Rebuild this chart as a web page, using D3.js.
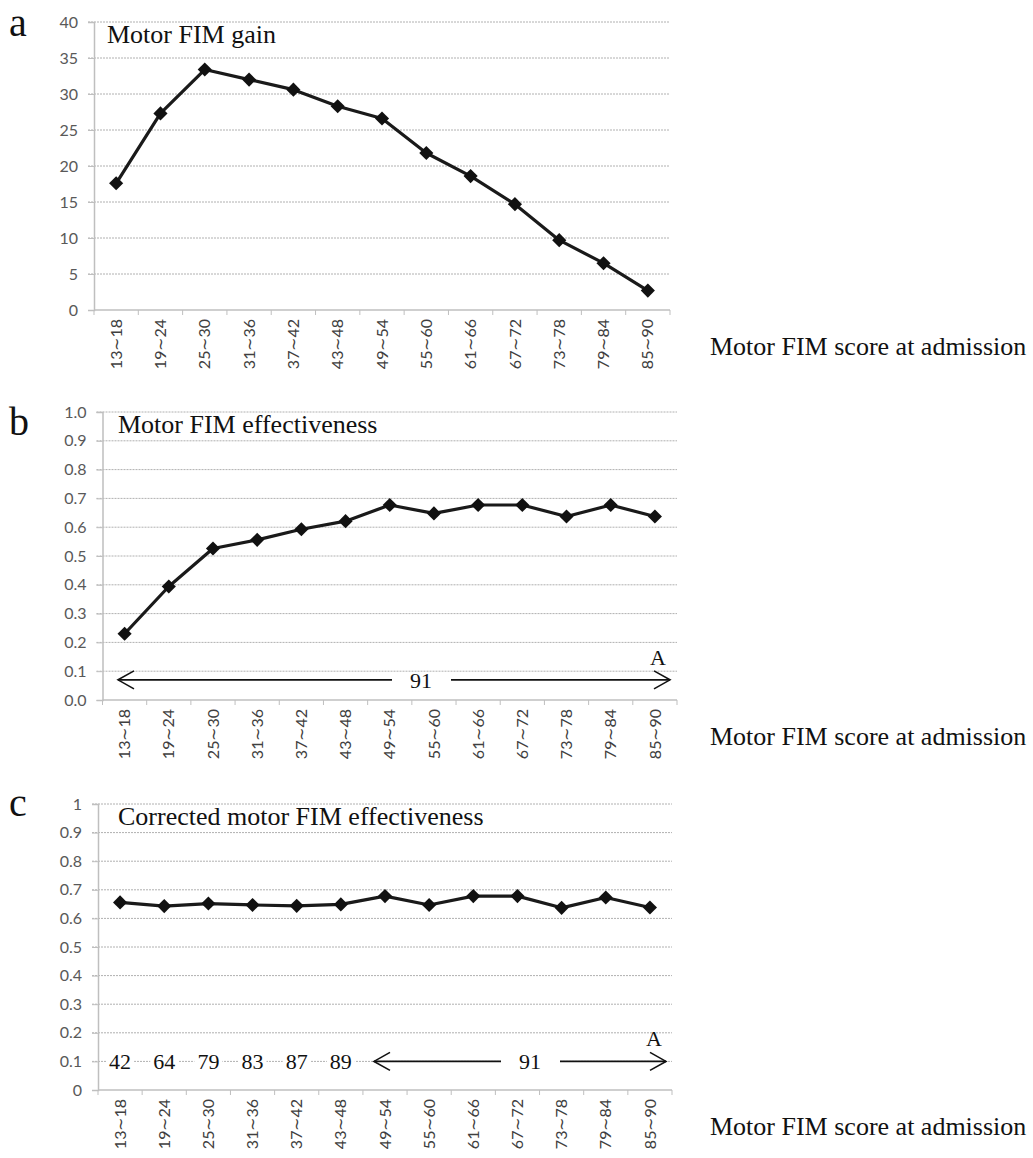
<!DOCTYPE html>
<html>
<head>
<meta charset="utf-8">
<script src="https://cdn.jsdelivr.net/npm/d3@7"></script>
<style>
  body { margin: 0; background: #fff; }
  .grid line { stroke: #b0b0b0; stroke-width: 1; stroke-dasharray: 2,1; }
  .axis-line { stroke: #bfbfbf; stroke-width: 1.5; }
  .serif { font-family: "Liberation Serif", "Times New Roman", serif; fill: #111; }
</style>
</head>
<body>
<div class="chart"></div>
<script>
/* Data
============================================= */
const CATEGORIES = ["13∼18", "19∼24", "25∼30", "31∼36", "37∼42", "43∼48", "49∼54",
                    "55∼60", "61∼66", "67∼72", "73∼78", "79∼84", "85∼90"];

const GAIN          = [17.6, 27.3, 33.4, 32.0, 30.6, 28.3, 26.6, 21.8, 18.6, 14.7, 9.7, 6.5, 2.7];
const EFFECTIVENESS = [0.23, 0.394, 0.526, 0.556, 0.593, 0.621, 0.677, 0.648, 0.677, 0.677, 0.637, 0.677, 0.637];
const CORRECTED     = [0.656, 0.643, 0.652, 0.647, 0.644, 0.649, 0.678, 0.647, 0.678, 0.678, 0.637, 0.673, 0.638];

const GAIN_TICKS = [0, 5, 10, 15, 20, 25, 30, 35, 40];
const EFF_TICKS  = [0, 0.1, 0.2, 0.3, 0.4, 0.5, 0.6, 0.7, 0.8, 0.9, 1];

// counts of patients reaching the ceiling, per category (panel c), and the shared one
const CEILING_COUNTS = [42, 64, 79, 83, 87, 89];
const CEILING_ALL = 91;

const X_TITLE = "Motor FIM score at admission";

/* Global Constants
============================================= */
const SVG_WIDTH = 1033;
const SVG_HEIGHT = 1158;

var svg = d3.select(".chart")
    .append("svg")
    .attr("width", SVG_WIDTH)
    .attr("height", SVG_HEIGHT);

var panels = [
    { letter: "a", title: "Motor FIM gain", values: GAIN, ticks: GAIN_TICKS, max: 40,
      x0: 94, x1: 670, yTop: 22, yBottom: 310, fmt: d3.format("d"), letterY: 36 },
    { letter: "b", title: "Motor FIM effectiveness", values: EFFECTIVENESS, ticks: EFF_TICKS, max: 1,
      x0: 102.5, x1: 677, yTop: 412, yBottom: 700, fmt: d3.format(".1f"), letterY: 435 },
    { letter: "c", title: "Corrected motor FIM effectiveness", values: CORRECTED, ticks: EFF_TICKS, max: 1,
      x0: 98, x1: 672, yTop: 804, yBottom: 1090, fmt: function(d) { return String(d); }, letterY: 816 }
];

panels.forEach(drawPanel);

// panel b: one arrow across all categories
drawArrow(panels[1], 0.07, 118, 670, 392, 451, 421);
// panel c: per-category counts, then arrow from 49~54
drawCounts(panels[2]);
drawArrow(panels[2], 0.1, 374, 666, 501, 560, 530);


/* Functions
============================================= */

/*
 * draws one line chart panel
 */
function drawPanel(p) {
    var g = svg.append("g");

    var x = d3.scaleBand().domain(CATEGORIES).range([p.x0, p.x1]);
    var y = d3.scaleLinear().domain([0, p.max]).range([p.yBottom, p.yTop]);
    p.x = x;
    p.y = y;
    p.g = g;

    // gridlines
    g.append("g")
        .attr("class", "grid")
        .selectAll("line")
        .data(p.ticks.filter(function(d) { return d > 0; }))
        .enter()
        .append("line")
        .attr("x1", p.x0 - 6)
        .attr("x2", p.x1)
        .attr("y1", function(d) { return y(d); })
        .attr("y2", function(d) { return y(d); });

    // y axis
    var leftAxis = d3.axisLeft(y).tickValues(p.ticks).tickFormat(p.fmt).tickSize(6).tickPadding(10);
    var yAxis = g.append("g")
        .attr("transform", `translate(${p.x0}, 0)`)
        .call(leftAxis);
    yAxis.select(".domain").attr("stroke", "#bfbfbf").attr("stroke-width", 1.5);
    yAxis.selectAll(".tick line").attr("stroke", "#bfbfbf");
    yAxis.selectAll("text")
        .attr("fill", "#595959")
        .style("font-family", "Lato, sans-serif")
        .style("font-size", "16px");

    // x axis: line + boundary ticks
    var xAxis = g.append("g");
    xAxis.append("line")
        .attr("class", "axis-line")
        .attr("x1", p.x0).attr("x2", p.x1)
        .attr("y1", p.yBottom).attr("y2", p.yBottom);
    xAxis.selectAll("line.tick")
        .data(CATEGORIES.map(function(c) { return x(c); }).concat([p.x1]))
        .enter()
        .append("line")
        .attr("class", "tick")
        .attr("stroke", "#bfbfbf")
        .attr("x1", function(d) { return d; })
        .attr("x2", function(d) { return d; })
        .attr("y1", p.yBottom)
        .attr("y2", p.yBottom + 5);

    // category labels (rotated)
    xAxis.selectAll("text")
        .data(CATEGORIES)
        .enter()
        .append("text")
        .attr("transform", function(d) {
            return `translate(${x(d) + x.bandwidth() / 2}, ${p.yBottom + 9}) rotate(-90)`;
        })
        .attr("text-anchor", "end")
        .attr("dy", "0.35em")
        .attr("fill", "#404040")
        .style("font-family", "Lato, sans-serif")
        .style("font-size", "16px")
        .text(function(d) { return d; });

    // line + diamonds
    var line = d3.line()
        .x(function(d, i) { return x(CATEGORIES[i]) + x.bandwidth() / 2; })
        .y(function(d) { return y(d); });

    g.append("path")
        .datum(p.values)
        .attr("fill", "none")
        .attr("stroke", "#1a1a1a")
        .attr("stroke-width", 3.2)
        .attr("stroke-linejoin", "round")
        .attr("d", line);

    g.selectAll("path.marker")
        .data(p.values)
        .enter()
        .append("path")
        .attr("class", "marker")
        .attr("d", d3.symbol(d3.symbolSquare, 100))
        .attr("fill", "#111")
        .attr("transform", function(d, i) {
            return `translate(${x(CATEGORIES[i]) + x.bandwidth() / 2}, ${y(d)}) rotate(45)`;
        });

    // titles
    g.append("text")
        .attr("class", "serif")
        .attr("x", p.letter === "a" ? 107 : 118)
        .attr("y", p.yTop + 21)
        .style("font-size", "26px")
        .text(p.title);

    g.append("text")
        .attr("class", "serif")
        .attr("x", 9)
        .attr("y", p.letterY)
        .style("font-size", "40px")
        .text(p.letter);

    g.append("text")
        .attr("class", "serif")
        .attr("x", 710)
        .attr("y", p.yBottom + 45)
        .style("font-size", "26px")
        .text(X_TITLE);
}

/*
 * draws a double headed arrow with the count in its gap
 */
function drawArrow(p, value, xLeft, xRight, gapLeft, gapRight, labelX) {
    var yy = p.y(value);
    var g = p.g.append("g").attr("stroke", "#111").attr("stroke-width", 1.6).attr("fill", "none");

    if (value === 0.1) {
        // hide gridline behind the count
        p.g.append("rect")
            .attr("x", gapLeft).attr("y", yy - 3)
            .attr("width", gapRight - gapLeft).attr("height", 6)
            .attr("fill", "#fff");
    }

    g.append("line").attr("x1", xLeft).attr("x2", gapLeft).attr("y1", yy).attr("y2", yy);
    g.append("line").attr("x1", gapRight).attr("x2", xRight).attr("y1", yy).attr("y2", yy);
    g.append("path").attr("d", `M${xLeft + 16},${yy - 9} L${xLeft},${yy} L${xLeft + 16},${yy + 9}`);
    g.append("path").attr("d", `M${xRight - 16},${yy - 9} L${xRight},${yy} L${xRight - 16},${yy + 9}`);

    p.g.append("text")
        .attr("class", "serif")
        .attr("x", labelX)
        .attr("y", yy)
        .attr("dy", "0.35em")
        .attr("text-anchor", "middle")
        .style("font-size", "22px")
        .text(CEILING_ALL);

    p.g.append("text")
        .attr("class", "serif")
        .attr("x", xRight - 12)
        .attr("y", p.y(value + 0.08))
        .attr("dy", "0.35em")
        .attr("text-anchor", "middle")
        .style("font-size", "22px")
        .text("A");
}

/*
 * panel c: counts per category on the 0.1 line
 */
function drawCounts(p) {
    var yy = p.y(0.1);
    var grp = p.g.selectAll("g.count")
        .data(CEILING_COUNTS)
        .enter()
        .append("g")
        .attr("class", "count")
        .attr("transform", function(d, i) {
            return `translate(${p.x(CATEGORIES[i]) + p.x.bandwidth() / 2}, ${yy})`;
        });

    grp.append("rect")
        .attr("x", -14).attr("y", -10)
        .attr("width", 28).attr("height", 20)
        .attr("fill", "#fff");

    grp.append("text")
        .attr("class", "serif")
        .attr("text-anchor", "middle")
        .attr("dy", "0.35em")
        .style("font-size", "22px")
        .text(function(d) { return d; });
}
</script>
</body>
</html>
